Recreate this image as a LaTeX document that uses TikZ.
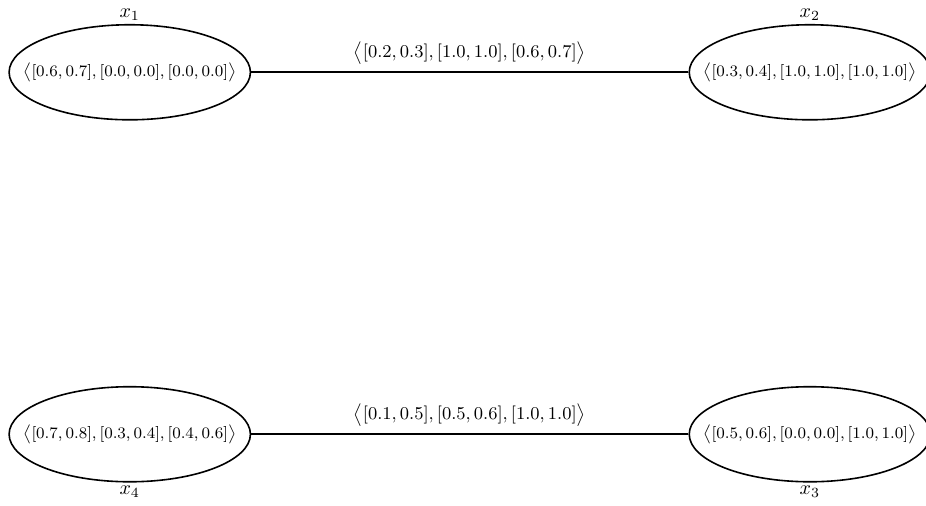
\documentclass[tikz,border=0pt]{standalone}
\usepackage{amsmath,amssymb}
\usepackage{tikz}
\usetikzlibrary{shapes,arrows,positioning,calc}

\begin{document}
\begin{tikzpicture}[
    var/.style={ellipse, draw, thick, minimum width=4.24cm, minimum height=1.67cm, inner xsep=-12pt, font=\footnotesize},
    link/.style={thick},
    lab/.style={font=\fontsize{9.5}{11}\selectfont, midway, above},
    every label/.style={label distance=-2pt}
]
\useasboundingbox (0,0) rectangle (16.27,8.89);

% Variables
\node[var, label=above:$x_1$] (x1) at (2.28,7.62) {$\big\langle[0.6, 0.7], [0.0, 0.0], [0.0, 0.0]\big\rangle$};
\node[var, label=above:$x_2$] (x2) at (14.23,7.62) {$\big\langle[0.3, 0.4], [1.0, 1.0], [1.0, 1.0]\big\rangle$};
\node[var, label=below:$x_3$] (x3) at (14.23,1.26) {$\big\langle[0.5, 0.6], [0.0, 0.0], [1.0, 1.0]\big\rangle$};
\node[var, label=below:$x_4$] (x4) at (2.28,1.26) {$\big\langle[0.7, 0.8], [0.3, 0.4], [0.4, 0.6]\big\rangle$};

% Constraints
\draw[link] (x1) -- node[lab] {$\big\langle[0.2, 0.3], [1.0, 1.0], [0.6, 0.7]\big\rangle$} (x2);
\draw[link] (x4) -- node[lab] {$\big\langle[0.1, 0.5], [0.5, 0.6], [1.0, 1.0]\big\rangle$} (x3);

\end{tikzpicture}
\end{document}
